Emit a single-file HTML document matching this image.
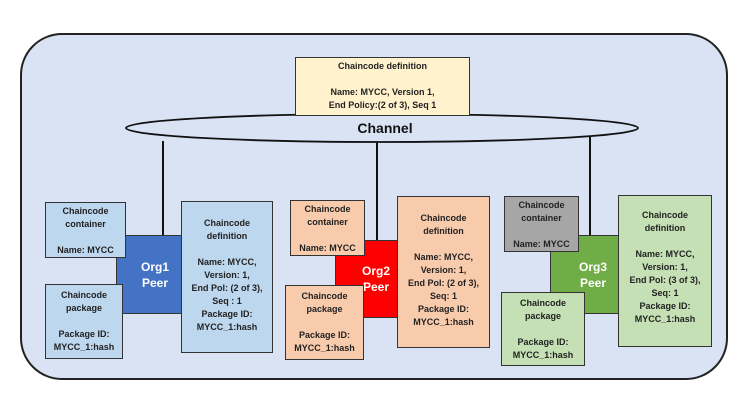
<!DOCTYPE html>
<html><head><style>
body{margin:0;width:754px;height:403px;background:#fff;position:relative;overflow:hidden;font-family:"Liberation Sans",sans-serif;font-weight:bold;}
.a{position:absolute;box-sizing:border-box;border:1.3px solid #333;text-align:center;font-size:9px;line-height:13px;color:#222;}
.b{background:#bdd7ee}.o{background:#f8cbad}.g{background:#c5e0b4}.gr{background:#a6a6a6}
.p{color:#fff;font-size:12px;line-height:16px;display:flex;align-items:center;justify-content:center;}
.l{position:absolute;width:2px;background:#111;}
</style></head><body>
<div style="position:absolute;left:20px;top:33px;width:708px;height:347px;box-sizing:border-box;border:2px solid #222;border-radius:42px;background:#dae3f3"></div>
<svg style="position:absolute;left:0;top:0" width="754" height="403"><ellipse cx="382" cy="128" rx="256" ry="14" fill="none" stroke="#111" stroke-width="1.8"/></svg>
<div class="a" style="left:295px;top:57px;width:175px;height:59px;background:#fff2cc;padding-top:2px">Chaincode definition<br><br>Name: MYCC, Version 1,<br>End Policy:(2 of 3), Seq 1</div>
<div style="position:absolute;left:330px;top:120px;width:110px;text-align:center;font-size:14px;color:#111">Channel</div>
<div class="l" style="left:162px;top:141px;height:96px"></div>
<div class="l" style="left:376px;top:142px;height:100px"></div>
<div class="l" style="left:589px;top:136px;height:100px"></div>

<div class="a p" style="left:116px;top:235px;width:66px;height:79px;background:#4472c4;padding-left:24px;justify-content:flex-start">Org1<br>Peer</div>
<div class="a b" style="left:45px;top:202px;width:81px;height:56px;padding-top:2px">Chaincode<br>container<br><br>Name: MYCC</div>
<div class="a b" style="left:45px;top:284px;width:78px;height:75px;padding-top:4px">Chaincode<br>package<br><br>Package ID:<br>MYCC_1:hash</div>
<div class="a b" style="left:181px;top:201px;width:92px;height:152px;padding-top:15px">Chaincode<br>definition<br><br>Name: MYCC,<br>Version: 1,<br>End Pol: (2 of 3),<br>Seq : 1<br>Package ID:<br>MYCC_1:hash</div>

<div class="a p" style="left:335px;top:240px;width:63px;height:78px;background:#ff0000;padding-left:26px;justify-content:flex-start">Org2<br>Peer</div>
<div class="a o" style="left:290px;top:200px;width:75px;height:56px;padding-top:2px">Chaincode<br>container<br><br>Name: MYCC</div>
<div class="a o" style="left:285px;top:285px;width:79px;height:75px;padding-top:4px">Chaincode<br>package<br><br>Package ID:<br>MYCC_1:hash</div>
<div class="a o" style="left:397px;top:196px;width:93px;height:152px;padding-top:15px">Chaincode<br>definition<br><br>Name: MYCC,<br>Version: 1,<br>End Pol: (2 of 3),<br>Seq: 1<br>Package ID:<br>MYCC_1:hash</div>

<div class="a p" style="left:550px;top:235px;width:69px;height:79px;background:#70ad47;padding-left:28px;justify-content:flex-start">Org3<br>Peer</div>
<div class="a gr" style="left:504px;top:196px;width:75px;height:56px;padding-top:2px">Chaincode<br>container<br><br>Name: MYCC</div>
<div class="a g" style="left:501px;top:292px;width:84px;height:74px;padding-top:4px">Chaincode<br>package<br><br>Package ID:<br>MYCC_1:hash</div>
<div class="a g" style="left:618px;top:195px;width:94px;height:152px;padding-top:13px">Chaincode<br>definition<br><br>Name: MYCC,<br>Version: 1,<br>End Pol: (3 of 3),<br>Seq: 1<br>Package ID:<br>MYCC_1:hash</div>
</body></html>
